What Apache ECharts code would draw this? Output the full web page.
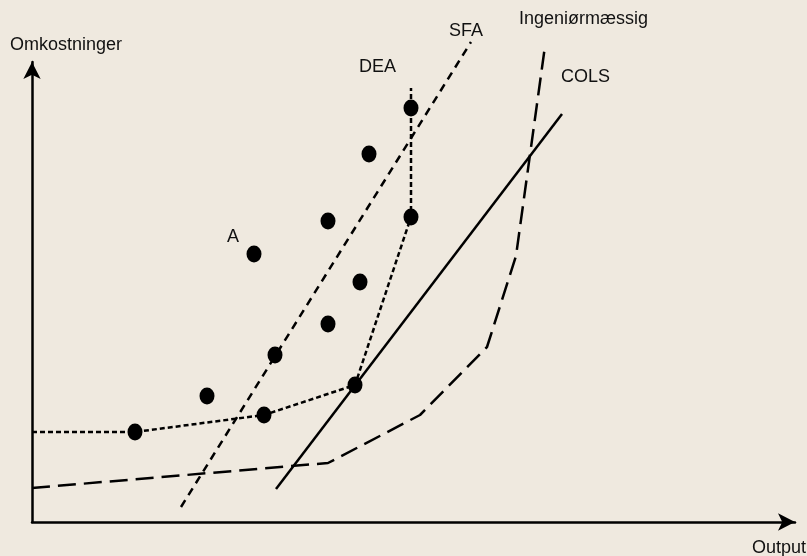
<!DOCTYPE html>
<html><head><meta charset="utf-8">
<script src="https://cdn.jsdelivr.net/npm/echarts@6/dist/echarts.min.js"></script>
<style>html,body{margin:0;padding:0;background:#efe9df}#c{width:807px;height:556px}</style>
</head><body><div id="c"></div>
<script>
// Data in chart units (output on x, costs on y)
const firmPoints = [[103,90],[175,126],[232,107],[222,268],[243,167],[296,301],[296,198],[328,240],[337,368],[323,137],[379,305],[379,414]];
const deaFrontier = [[0,90],[103,90],[232,107],[323,137],[379,305],[379,434]];
const sfaLine = [[149,15],[439,480]];
const colsLine = [[244,33],[530,408]];
const engCurve = [[0,34],[296,59],[388,107],[455,175],[484,266],[513,476]];

const chart = echarts.init(document.getElementById('c'));
const font = 'Liberation Sans, Arial, sans-serif';
const lineSeries = (data, type, w) => ({
  type: 'line', data, showSymbol: false, clip: false, silent: true,
  lineStyle: { color: '#000', width: w, type }
});
const label = (text, x, y) => ({ type: 'text', x, y,
  style: { text, font: '18px ' + font, fill: '#111', verticalAlign: 'middle', align: 'left' } });
chart.setOption({
  backgroundColor: '#efe9df',
  animation: false,
  grid: { left: 32, top: 62, width: 763, height: 460 },
  xAxis: { type: 'value', min: 0, max: 763,
    axisLine: { lineStyle: { color: '#000', width: 2.5 }, symbol: ['none','arrow'], symbolSize: [13,17] },
    axisTick: { show: false }, axisLabel: { show: false }, splitLine: { show: false } },
  yAxis: { type: 'value', min: 0, max: 460,
    axisLine: { show: true, onZero: false, lineStyle: { color: '#000', width: 2.5 }, symbol: ['none','arrow'], symbolSize: [13,17] },
    axisTick: { show: false }, axisLabel: { show: false }, splitLine: { show: false } },
  series: [
    lineSeries(deaFrontier, [5,3], 2.5),
    lineSeries(sfaLine, [8,6], 2.5),
    lineSeries(colsLine, 'solid', 2.5),
    lineSeries(engCurve, [18,8], 2.5),
    { type: 'scatter', data: firmPoints, symbol: 'circle', symbolSize: [15,17],
      itemStyle: { color: '#000', opacity: 1 }, z: 5 }
  ],
  graphic: [
    label('Omkostninger', 10, 45),
    label('Output', 752, 548),
    label('SFA', 449, 31),
    label('Ingeniørmæssig', 519, 19),
    label('DEA', 359, 67),
    label('COLS', 561, 77),
    label('A', 227, 237)
  ]
});
</script></body></html>
